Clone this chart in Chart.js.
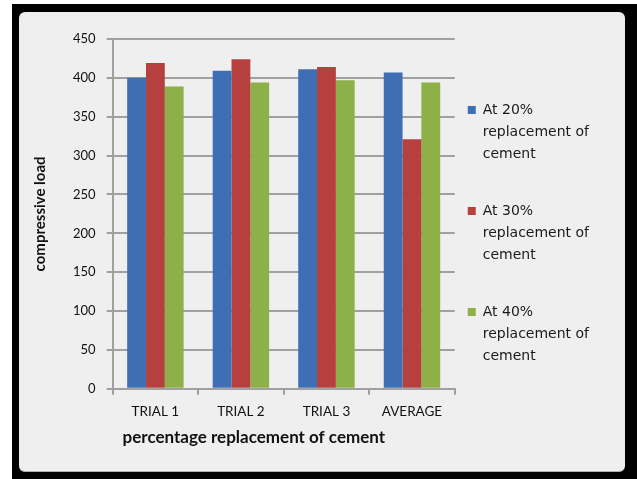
<!DOCTYPE html>
<html>
<head>
<meta charset="utf-8">
<script src="https://cdn.jsdelivr.net/npm/chart.js@4"></script>
<style>
  html, body { margin: 0; padding: 0; background: #fff; }
  #frame {
    position: absolute; left: 12px; top: 4px; width: 625px; height: 475px;
    background: #000;
  }
  #panel {
    position: absolute; left: 19px; top: 12px; width: 606px; height: 460px;
    background: #efefef; border-radius: 6px;
    border-bottom: 1px solid #b0b0b0; box-sizing: border-box;
  }
  #panel canvas { position: absolute; left: 0; top: 0; }
</style>
</head>
<body>
<div id="frame"></div>
<div id="panel"><canvas id="chart" width="606" height="460"></canvas></div>
<script>
// categories and series
const categories = ['TRIAL 1', 'TRIAL 2', 'TRIAL 3', 'AVERAGE'];
const seriesNames = [
  ['At 20%', 'replacement of', 'cement', ''],
  ['At 30%', 'replacement of', 'cement', ''],
  ['At 40%', 'replacement of', 'cement', '']
];
const at20 = [400, 409, 411, 407];
const at30 = [419, 424, 414, 321];
const at40 = [389, 394, 397, 394];
const yTitle = 'compressive load';
const xTitle = 'percentage replacement of cement';

const colors = ['#3e6fb4', '#b6403e', '#8db049'];
const gridGray = '#a0a0a0';
const textColor = '#1a1a1a';

// x-axis title sits a bit left of the plot centre in the original
const xTitlePlugin = {
  id: 'xTitle',
  afterDraw(chart) {
    const { ctx, chartArea } = chart;
    ctx.save();
    ctx.font = 'bold 17px Lato';
    ctx.fillStyle = '#111';
    ctx.textAlign = 'left';
    ctx.textBaseline = 'middle';
    ctx.fillText(xTitle, chartArea.left + 10, chartArea.bottom + 49);
    ctx.restore();
  }
};

const ctx = document.getElementById('chart').getContext('2d');
new Chart(ctx, {
  type: 'bar',
  data: {
    labels: categories,
    datasets: [at20, at30, at40].map((vals, i) => ({
      label: seriesNames[i],
      data: vals,
      backgroundColor: colors[i],
      borderWidth: 0,
      categoryPercentage: 0.66,
      barPercentage: 1
    }))
  },
  options: {
    responsive: false,
    animation: false,
    layout: { padding: { top: 27, left: 12, right: 29, bottom: 43 } },
    plugins: {
      tooltip: { enabled: false },
      legend: {
        position: 'right',
        align: 'start',
        title: {
          display: true,
          text: ' ',
          padding: { top: 30, bottom: 0 },
          font: { size: 12, lineHeight: '21px' }
        },
        labels: {
          boxWidth: 8,
          boxHeight: 8,
          padding: 13,
          color: textColor,
          font: { family: 'DejaVu Sans', size: 14, lineHeight: '22px' },
          generateLabels(chart) {
            return chart.data.datasets.map((ds, i) => ({
              text: ds.label,
              fillStyle: ds.backgroundColor,
              strokeStyle: ds.backgroundColor,
              fontColor: textColor,
              lineWidth: 0,
              datasetIndex: i
            }));
          }
        }
      }
    },
    scales: {
      x: {
        grid: {
          drawOnChartArea: false,
          drawTicks: true,
          tickLength: 6,
          color: gridGray,
          lineWidth: 2
        },
        border: { color: gridGray, width: 2 },
        ticks: {
          color: '#111',
          padding: 9,
          font: { family: 'Lato', size: 13.5 }
        }
      },
      y: {
        min: 0,
        max: 450,
        grid: { color: gridGray, lineWidth: 2, tickLength: 6 },
        border: { color: gridGray, width: 2 },
        ticks: {
          stepSize: 50,
          color: '#111',
          padding: 11,
          font: { family: 'Lato', size: 13 }
        },
        title: {
          display: true,
          text: yTitle,
          color: '#111',
          padding: { top: 0, bottom: 13 },
          font: { family: 'Lato', size: 15, weight: 'bold' }
        }
      }
    }
  },
  plugins: [xTitlePlugin]
});
</script>
</body>
</html>
